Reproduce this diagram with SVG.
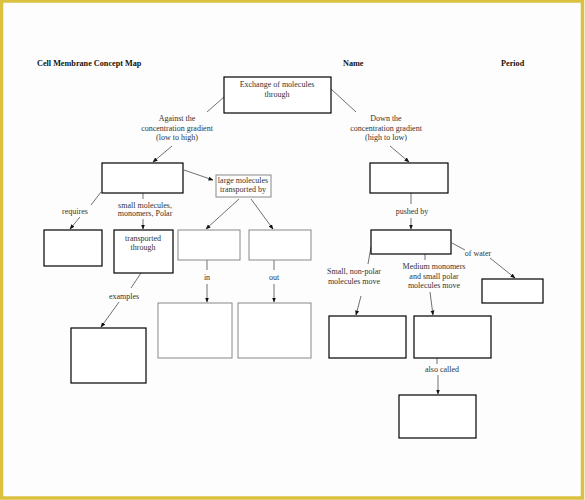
<svg xmlns="http://www.w3.org/2000/svg" width="585" height="500" viewBox="0 0 585 500">
<style>
.t{font-family:"Liberation Serif","Times New Roman",serif;font-size:8px;fill:#333;text-anchor:middle}
.h{font-family:"Liberation Serif","Times New Roman",serif;font-size:8.2px;font-weight:bold;fill:#111}
.b{fill:#fff;stroke:#000;stroke-width:1.2}
.g{fill:#fff;stroke:#888;stroke-width:1}
.c{fill:none;stroke:#333;stroke-width:0.7}
.a{fill:none;stroke:#333;stroke-width:0.7;marker-end:url(#ah)}
</style>
<defs>
<marker id="ah" viewBox="0 0 10 10" refX="9" refY="5" markerWidth="5" markerHeight="5" orient="auto" markerUnits="userSpaceOnUse">
<path d="M0,1 L10,5 L0,9 z" fill="#111"/>
</marker>
</defs>
<rect x="0" y="0" width="585" height="500" fill="#fdfdfd"/>
<rect x="1.5" y="1" width="581" height="497" fill="none" stroke="#dcc040" stroke-width="3.5"/>
<text class="h" x="37" y="66">Cell Membrane Concept Map</text>
<text class="h" x="343" y="66">Name</text>
<text class="h" x="501" y="66">Period</text>

<g id="connectors">
<line class="c" x1="224" y1="97" x2="207" y2="112"/>
<line class="a" x1="172" y1="146" x2="153" y2="162"/>
<line class="c" x1="331" y1="89" x2="356" y2="112"/>
<line class="a" x1="390" y1="146" x2="409" y2="162"/>
<line class="a" x1="184" y1="170" x2="213" y2="180"/>
<line class="c" x1="101" y1="192" x2="91" y2="205"/>
<line class="a" x1="80" y1="217" x2="70" y2="229"/>
<line class="c" x1="143" y1="193" x2="143" y2="199"/>
<line class="a" x1="143" y1="219" x2="143" y2="229"/>
<line class="c" x1="141" y1="273" x2="131" y2="288"/>
<line class="a" x1="119" y1="302" x2="101" y2="327"/>
<line class="a" x1="239" y1="199" x2="206" y2="229"/>
<line class="a" x1="251" y1="199" x2="273" y2="229"/>
<line class="c" x1="207" y1="260" x2="207" y2="270"/>
<line class="a" x1="207" y1="284" x2="207" y2="302"/>
<line class="c" x1="274" y1="260" x2="274" y2="270"/>
<line class="a" x1="274" y1="284" x2="274" y2="302"/>
<line class="c" x1="411" y1="193" x2="411" y2="204"/>
<line class="a" x1="411" y1="218" x2="411" y2="229"/>
<line class="c" x1="452" y1="243" x2="465" y2="250"/>
<line class="a" x1="490" y1="258" x2="515" y2="278"/>
<line class="c" x1="371" y1="247" x2="368" y2="264"/>
<line class="a" x1="361" y1="296" x2="356" y2="315"/>
<line class="c" x1="425" y1="254" x2="425" y2="260"/>
<line class="a" x1="430" y1="292" x2="433" y2="315"/>
<line class="c" x1="437" y1="358" x2="437" y2="364"/>
<line class="a" x1="438" y1="375" x2="438" y2="394"/>
</g>

<g id="n-top"><rect class="b" x="224" y="77" width="107" height="36"/>
<text class="t" x="277" y="87">Exchange of molecules</text><text class="t" x="277" y="97">through</text></g>
<g id="l-against"><text class="t" x="177" y="121">Against the</text><text class="t" x="177" y="131">concentration gradient</text><text class="t" x="177" y="140">(low to high)</text></g>
<g id="l-down"><text class="t" x="386" y="121">Down the</text><text class="t" x="386" y="131">concentration gradient</text><text class="t" x="386" y="140">(high to low)</text></g>
<g id="n-a"><rect class="b" x="102" y="163" width="81" height="30"/></g>
<g id="n-b"><rect class="b" x="370" y="163" width="78" height="30"/></g>
<g id="n-large"><rect class="g" x="216" y="175" width="55" height="22"/>
<text class="t" x="243" y="183">large molecules</text><text class="t" x="243" y="192">transported by</text></g>
<g id="l-requires"><text class="t" x="75" y="214">requires</text></g>
<g id="l-small"><text class="t" x="145" y="208">small molecules,</text><text class="t" x="145" y="216">monomers, Polar</text></g>
<g id="n-c"><rect class="b" x="44" y="230" width="58" height="36"/></g>
<g id="n-d"><rect class="b" x="114" y="230" width="59" height="43"/>
<text class="t" x="143" y="241">transported</text><text class="t" x="143" y="250">through</text></g>
<g id="l-examples"><text class="t" x="124" y="299">examples</text></g>
<g id="n-e"><rect class="b" x="71" y="328" width="75" height="55"/></g>
<g id="n-f"><rect class="g" x="178" y="230" width="62" height="30"/></g>
<g id="n-g"><rect class="g" x="249" y="230" width="62" height="30"/></g>
<g id="l-in"><text class="t" x="207" y="280">in</text></g>
<g id="l-out"><text class="t" x="274" y="280">out</text></g>
<g id="n-h"><rect class="g" x="158" y="303" width="74" height="55"/></g>
<g id="n-i"><rect class="g" x="238" y="303" width="73" height="55"/></g>
<g id="l-pushed"><text class="t" x="412" y="214">pushed by</text></g>
<g id="n-j"><rect class="b" x="371" y="230" width="80" height="24"/></g>
<g id="l-water"><text class="t" x="478" y="256">of water</text></g>
<g id="n-k"><rect class="b" x="482" y="279" width="61" height="24"/></g>
<g id="l-nonpolar"><text class="t" x="354" y="274">Small, non-polar</text><text class="t" x="354" y="284">molecules move</text></g>
<g id="l-medium"><text class="t" x="434" y="269">Medium  monomers</text><text class="t" x="434" y="279">and small polar</text><text class="t" x="434" y="288">molecules move</text></g>
<g id="n-l"><rect class="b" x="329" y="316" width="77" height="42"/></g>
<g id="n-m"><rect class="b" x="414" y="316" width="77" height="42"/></g>
<g id="l-also"><text class="t" x="442" y="372">also called</text></g>
<g id="n-n"><rect class="b" x="399" y="395" width="77" height="43"/></g>
</svg>
